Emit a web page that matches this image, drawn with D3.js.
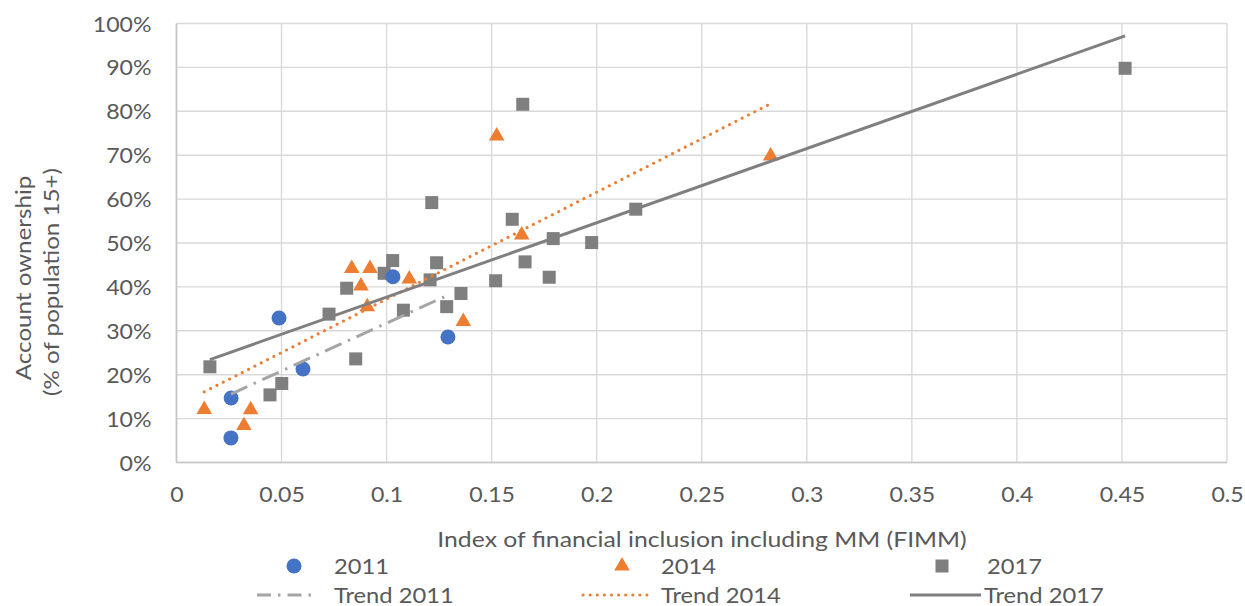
<!DOCTYPE html>
<html>
<head>
<meta charset="utf-8">
<script src="https://cdn.jsdelivr.net/npm/d3@7"></script>
<style>
  html, body { margin: 0; padding: 0; background: #fff; }
  svg { display: block; }
  text { font-family: Lato, "Open Sans", sans-serif; fill: #595959; }
</style>
</head>
<body>
<svg id="chart" width="1245" height="606"></svg>
<script>
// FIMM index (x) and account ownership share (y) per survey wave
const fimm2011 = [0.0259, 0.0260, 0.0488, 0.0602, 0.1030, 0.1292];
const own2011  = [0.056, 0.147, 0.329, 0.213, 0.423, 0.286];

const fimm2014 = [0.0132, 0.0353, 0.0321, 0.0834, 0.0921, 0.0878, 0.0908, 0.1108, 0.1365, 0.1643, 0.1524, 0.2828];
const own2014  = [0.121, 0.120, 0.084, 0.442, 0.442, 0.402, 0.355, 0.418, 0.321, 0.518, 0.744, 0.698];

const fimm2017 = [0.0159, 0.0445, 0.0501, 0.0726, 0.0810, 0.0853, 0.0988, 0.1029, 0.1080, 0.1207, 0.1215, 0.1238,
                  0.1286, 0.1354, 0.1519, 0.1598, 0.1648, 0.1659, 0.1774, 0.1793, 0.1976, 0.2186, 0.4515];
const own2017  = [0.218, 0.154, 0.180, 0.338, 0.397, 0.236, 0.431, 0.460, 0.347, 0.416, 0.592, 0.455,
                  0.355, 0.385, 0.414, 0.554, 0.816, 0.457, 0.422, 0.510, 0.501, 0.577, 0.898];

const xTickValues = [0, 0.05, 0.1, 0.15, 0.2, 0.25, 0.3, 0.35, 0.4, 0.45, 0.5];
const xTickLabels = ["0", "0.05", "0.1", "0.15", "0.2", "0.25", "0.3", "0.35", "0.4", "0.45", "0.5"];
const yTickValues = [0, 0.1, 0.2, 0.3, 0.4, 0.5, 0.6, 0.7, 0.8, 0.9, 1.0];
const yTickLabels = ["0%", "10%", "20%", "30%", "40%", "50%", "60%", "70%", "80%", "90%", "100%"];

const seriesNames = ["2011", "2014", "2017"];
const trendNames  = ["Trend 2011", "Trend 2014", "Trend 2017"];

const svg = d3.select("#chart");
const plot = { left: 176.5, right: 1227, top: 23.5, bottom: 462.5 };

const x = d3.scaleLinear().domain([0, 0.5]).range([plot.left, plot.right]);
const y = d3.scaleLinear().domain([0, 1]).range([plot.bottom, plot.top]);

// places a horizontally widened label whose anchor sits at (px, py)
function label(parent, px, py, str, opts = {}) {
  const g = parent.append("g")
    .attr("transform", `translate(${px}, ${py}) rotate(${opts.rotate || 0}) scale(${opts.sx || 1.13}, 1)`);
  return g.append("text")
    .attr("text-anchor", opts.anchor || "start")
    .attr("dy", opts.dy || "0.36em")
    .style("font-size", (opts.size || 21) + "px")
    .text(str);
}

// gridlines
const grid = svg.append("g");
grid.selectAll("line.h").data(yTickValues).join("line")
  .attr("x1", plot.left).attr("x2", plot.right)
  .attr("y1", d => y(d)).attr("y2", d => y(d))
  .attr("stroke", "#d9d9d9").attr("stroke-width", 1.4);
grid.selectAll("line.v").data(xTickValues).join("line")
  .attr("y1", plot.top).attr("y2", plot.bottom)
  .attr("x1", d => x(d)).attr("x2", d => x(d))
  .attr("stroke", "#d9d9d9").attr("stroke-width", 1.4);

// axis lines
svg.append("line").attr("x1", plot.left).attr("x2", plot.left)
  .attr("y1", plot.top).attr("y2", plot.bottom)
  .attr("stroke", "#c6c6c6").attr("stroke-width", 1.6);
svg.append("line").attr("x1", plot.left).attr("x2", plot.right)
  .attr("y1", plot.bottom).attr("y2", plot.bottom)
  .attr("stroke", "#c6c6c6").attr("stroke-width", 1.6);

// axes with tick labels only
const xAxis = d3.axisBottom(x).tickValues(xTickValues)
  .tickFormat((d, i) => xTickLabels[i]).tickSize(0).tickPadding(0);
const gx = svg.append("g").attr("transform", `translate(0, ${plot.bottom})`).call(xAxis);
gx.select(".domain").remove();
gx.selectAll("text").attr("dy", "0.36em").attr("y", 0)
  .attr("transform", "translate(0, 32) scale(1.1, 1)")
  .style("font-family", "Lato").style("font-size", "21px").attr("fill", "#595959");

const yAxis = d3.axisLeft(y).tickValues(yTickValues)
  .tickFormat((d, i) => yTickLabels[i]).tickSize(0).tickPadding(0);
const gy = svg.append("g").attr("transform", `translate(${plot.left - 25}, 0)`).call(yAxis);
gy.select(".domain").remove();
gy.selectAll("text").attr("dy", "0.36em").attr("x", 0)
  .attr("transform", "scale(1.1, 1)")
  .style("font-family", "Lato").style("font-size", "21px").attr("fill", "#595959");

// axis titles
label(svg, 702, 539, "Index of financial inclusion including MM (FIMM)", { anchor: "middle", sx: 1.18 });
label(svg, 23, 278, "Account ownership", { anchor: "middle", rotate: -90, sx: 1.15 });
label(svg, 51, 282, "(% of population 15+)", { anchor: "middle", rotate: -90, sx: 1.15 });

// markers
const colors = { c2011: "#4472c4", c2014: "#ed7d31", c2017: "#7f7f7f" };
const pts = (xs, ys) => xs.map((v, i) => [v, ys[i]]);

const triangle = d3.symbol().type(d3.symbolTriangle).size(105);

svg.append("g").selectAll("rect").data(pts(fimm2017, own2017)).join("rect")
  .attr("x", d => x(d[0]) - 6.5).attr("y", d => y(d[1]) - 6.5)
  .attr("width", 13).attr("height", 13).attr("fill", colors.c2017);

svg.append("g").selectAll("path").data(pts(fimm2014, own2014)).join("path")
  .attr("d", triangle)
  .attr("transform", d => `translate(${x(d[0])}, ${y(d[1])})`)
  .attr("fill", colors.c2014);

svg.append("g").selectAll("circle").data(pts(fimm2011, own2011)).join("circle")
  .attr("cx", d => x(d[0])).attr("cy", d => y(d[1])).attr("r", 7.5)
  .attr("fill", colors.c2011);

// least-squares trend lines, spanning each series' x range
function trend(xs, ys) {
  const mx = d3.mean(xs), my = d3.mean(ys);
  let sxy = 0, sxx = 0;
  xs.forEach((v, i) => { sxy += (v - mx) * (ys[i] - my); sxx += (v - mx) * (v - mx); });
  const b = sxy / sxx, a = my - b * mx;
  const x0 = d3.min(xs), x1 = d3.max(xs);
  return [[x0, a + b * x0], [x1, a + b * x1]];
}
const line = d3.line().x(d => x(d[0])).y(d => y(d[1]));

const trendStyles = [
  { stroke: "#a5a5a5", width: 3, dash: "18 7 2.5 7", cap: "butt" },
  { stroke: "#ed7d31", width: 3, dash: "0.1 7", cap: "round" },
  { stroke: "#7f7f7f", width: 3, dash: null, cap: "butt" }
];
const trendData = [trend(fimm2011, own2011), trend(fimm2014, own2014), trend(fimm2017, own2017)];

trendData.forEach((t, i) => {
  const s = trendStyles[i];
  svg.append("path").attr("d", line(t)).attr("fill", "none")
    .attr("stroke", s.stroke).attr("stroke-width", s.width)
    .attr("stroke-dasharray", s.dash).attr("stroke-linecap", s.cap);
});

// legend
const legend = svg.append("g");
const legX = [294, 622, 942];
const textX = [334, 661, 987];
const row1 = 566, row2 = 595;

legend.append("circle").attr("cx", legX[0]).attr("cy", row1).attr("r", 7.5).attr("fill", colors.c2011);
legend.append("path").attr("d", triangle)
  .attr("transform", `translate(${legX[1]}, ${row1})`).attr("fill", colors.c2014);
legend.append("rect").attr("x", legX[2] - 6.5).attr("y", row1 - 6.5)
  .attr("width", 13).attr("height", 13).attr("fill", colors.c2017);

seriesNames.forEach((n, i) => label(legend, textX[i], row1, n));

const legLineX = [[257, 318], [583, 651], [910, 981]];
trendStyles.forEach((s, i) => {
  legend.append("line").attr("x1", legLineX[i][0]).attr("x2", legLineX[i][1])
    .attr("y1", row2).attr("y2", row2)
    .attr("stroke", s.stroke).attr("stroke-width", s.width)
    .attr("stroke-dasharray", i === 0 ? "14 7 2.5 7" : s.dash).attr("stroke-linecap", s.cap);
  label(legend, textX[i] - (i === 2 ? 3 : 0), row2, trendNames[i]);
});
</script>
</body>
</html>
